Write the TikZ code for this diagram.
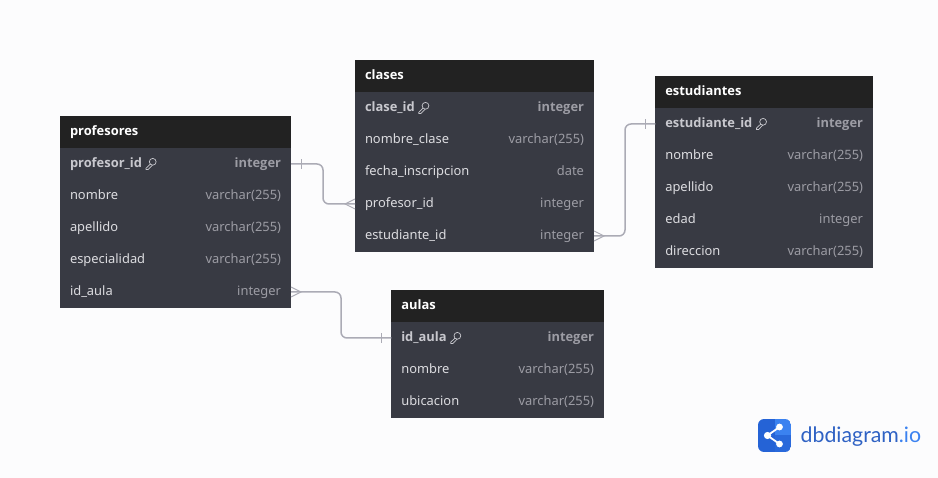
\documentclass[tikz,border=0pt]{standalone}
\usepackage{fontspec}
\setmainfont{Noto Sans}
\newfontfamily\boldfam{Open Sans}[UprightFont=*-Bold]
\newfontfamily\logofam{Lato}
\usetikzlibrary{calc}
\definecolor{bgc}{HTML}{FCFCFD}
\definecolor{headc}{HTML}{222222}
\definecolor{bodyc}{HTML}{383A43}
\definecolor{namec}{HTML}{DCDCE0}
\definecolor{typec}{HTML}{9C9CA4}
\definecolor{pkc}{HTML}{C8C8CE}
\definecolor{linec}{HTML}{ABABB5}
\definecolor{logoa}{HTML}{2563D6}
\definecolor{logob}{HTML}{3B82F0}
\definecolor{logot}{HTML}{2F62C4}
\tikzset{
  x=1pt,y=-1pt,
  cellbox/.style={draw=none,inner sep=0pt,outer sep=0pt,minimum height=32pt,anchor=north west},
  headbox/.style={cellbox,fill=headc},
  rowbox/.style={cellbox,fill=bodyc},
  txt/.style={inner sep=0pt,outer sep=0pt,font=\fontsize{12.9}{15}\selectfont,text height=9.5pt,text depth=3pt},
  headtxt/.style={txt,anchor=west,text=white,font=\fontsize{12.9}{15}\boldfam},
  nametxt/.style={txt,anchor=west,text=namec},
  typetxt/.style={txt,anchor=east,text=typec},
  pkname/.style={txt,anchor=west,text=pkc,font=\fontsize{12.9}{15}\boldfam},
  pktype/.style={txt,anchor=east,text=typec,font=\fontsize{12.9}{15}\boldfam},
  conn/.style={draw=linec,line width=1.5pt,rounded corners=6pt},
  connmark/.style={draw=linec,line width=0.9pt},
  keyicon/.style={draw=pkc,line width=0.7pt},
}
\newcommand{\headrow}[5]{% name x y w label
  \node[headbox,minimum width=#4pt] (#1) at (#2,#3) {};
  \node[headtxt] (#1-t) at ([xshift=10pt]#1.west) {#5};
}
\newcommand{\plainrow}[6]{% name x y w field type
  \node[rowbox,minimum width=#4pt] (#1) at (#2,#3) {};
  \node[nametxt] (#1-n) at ([xshift=10pt]#1.west) {#5};
  \node[typetxt] (#1-t) at ([xshift=-10pt]#1.east) {#6};
}
\newcommand{\pkrow}[6]{%
  \node[rowbox,minimum width=#4pt] (#1) at (#2,#3) {};
  \node[pkname] (#1-n) at ([xshift=10pt]#1.west) {#5};
  \node[pktype] (#1-t) at ([xshift=-10pt]#1.east) {#6};
  \begin{scope}[shift={([xshift=3.5pt]#1-n.east)}]
    \draw[keyicon] (7.2,-2.2) circle (3.4pt);
    \draw[keyicon,line join=round] (4.9,0) -- (0.5,4.2) -- (0.5,5.6) -- (2.6,5.6) -- (6.8,1.2);
  \end{scope}
}
\begin{document}
\begin{tikzpicture}
\useasboundingbox (0,0) rectangle (938,478);
\fill[bgc] (0,0) rectangle (938,478);

% profesores
\headrow{prof}{60}{116}{231}{profesores}
\pkrow{prof1}{60}{148}{231}{profesor\_id}{integer}
\plainrow{prof2}{60}{180}{231}{nombre}{varchar(255)}
\plainrow{prof3}{60}{212}{231}{apellido}{varchar(255)}
\plainrow{prof4}{60}{244}{231}{especialidad}{varchar(255)}
\plainrow{prof5}{60}{276}{231}{id\_aula}{integer}

% clases
\headrow{cla}{355}{60}{239}{clases}
\pkrow{cla1}{355}{92}{239}{clase\_id}{integer}
\plainrow{cla2}{355}{124}{239}{nombre\_clase}{varchar(255)}
\plainrow{cla3}{355}{156}{239}{fecha\_inscripcion}{date}
\plainrow{cla4}{355}{188}{239}{profesor\_id}{integer}
\plainrow{cla5}{355}{220}{239}{estudiante\_id}{integer}

% estudiantes
\headrow{est}{655.3}{76}{217.7}{estudiantes}
\pkrow{est1}{655.3}{108}{217.7}{estudiante\_id}{integer}
\plainrow{est2}{655.3}{140}{217.7}{nombre}{varchar(255)}
\plainrow{est3}{655.3}{172}{217.7}{apellido}{varchar(255)}
\plainrow{est4}{655.3}{204}{217.7}{edad}{integer}
\plainrow{est5}{655.3}{236}{217.7}{direccion}{varchar(255)}

% aulas
\headrow{aul}{391.3}{290}{212.7}{aulas}
\pkrow{aul1}{391.3}{322}{212.7}{id\_aula}{integer}
\plainrow{aul2}{391.3}{354}{212.7}{nombre}{varchar(255)}
\plainrow{aul3}{391.3}{386}{212.7}{ubicacion}{varchar(255)}

% connectors
\draw[conn] (prof1.east) -- ++(32,0) |- (cla4.west);
\draw[conn] (cla5.east) -- ++(31,0) |- (est1.west);
\draw[conn] (prof5.east) -- ++(50,0) |- (aul1.west);

% one-side ticks
\draw[connmark] ([xshift=10pt,yshift=-5pt]prof1.east) -- ([xshift=10pt,yshift=5pt]prof1.east);
\draw[connmark] ([xshift=-10pt,yshift=-5pt]est1.west) -- ([xshift=-10pt,yshift=5pt]est1.west);
\draw[connmark] ([xshift=-10pt,yshift=-5pt]aul1.west) -- ([xshift=-10pt,yshift=5pt]aul1.west);

% crow's feet
\draw[connmark] ([yshift=5pt]cla4.west) -- ([xshift=-10pt]cla4.west) -- ([yshift=-5pt]cla4.west);
\draw[connmark] ([yshift=5pt]cla5.east) -- ([xshift=10pt]cla5.east) -- ([yshift=-5pt]cla5.east);
\draw[connmark] ([yshift=5pt]prof5.east) -- ([xshift=10pt]prof5.east) -- ([yshift=-5pt]prof5.east);

% logo
\begin{scope}
  \clip[rounded corners=6pt] (758,419) rectangle (791,452);
  \fill[logoa] (758,419) rectangle (775,452);
  \fill[logob] (775,419) rectangle (791,435.5);
  \fill[logoa!80!logob] (775,435.5) rectangle (791,452);
\end{scope}
\coordinate (hub) at (767.5,435.5);
\coordinate (ta) at (779.5,427);
\coordinate (tb) at (779.5,444);
\draw[white,line width=1.8pt] (ta) -- (hub) -- (tb);
\fill[white] (hub) circle (3.6pt) (ta) circle (3.4pt) (tb) circle (3.4pt);
\node[inner sep=0pt,anchor=base west,font=\fontsize{21.3}{24}\logofam,text=logot] (logo) at (800.5,442.5) {dbdiagram\textcolor{logob}{.io}};
\end{tikzpicture}
\end{document}
